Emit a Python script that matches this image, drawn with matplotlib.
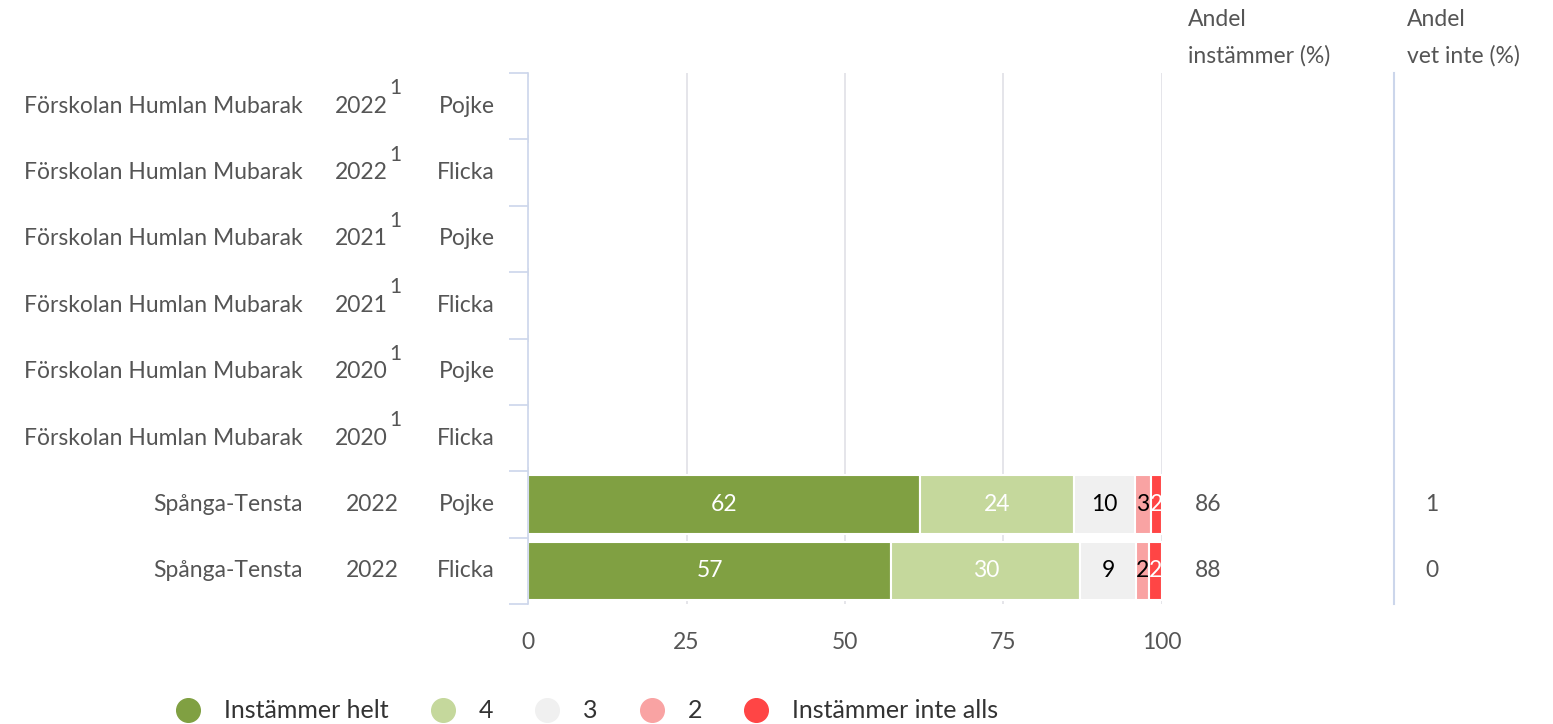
import matplotlib.pyplot as plt
import matplotlib.transforms as mtransforms
import numpy as np

plt.rcParams['font.family'] = ['Lato', 'DejaVu Sans']

schools = ["Förskolan Humlan Mubarak"] * 6 + ["Spånga-Tensta"] * 2
years = ["2022", "2022", "2021", "2021", "2020", "2020", "2022", "2022"]
footnote = [True, True, True, True, True, True, False, False]
genders = ["Pojke", "Flicka", "Pojke", "Flicka", "Pojke", "Flicka", "Pojke", "Flicka"]

categories = ["Instämmer helt", "4", "3", "2", "Instämmer inte alls"]
# shares per row (only the last two rows have data)
helt = [0, 0, 0, 0, 0, 0, 61.8, 57.3]
fyra = [0, 0, 0, 0, 0, 0, 24.3, 29.8]
tre = [0, 0, 0, 0, 0, 0, 9.6, 8.8]
tva = [0, 0, 0, 0, 0, 0, 2.6, 2.0]
inte = [0, 0, 0, 0, 0, 0, 1.7, 2.1]
andel_instammer = [None, None, None, None, None, None, 86, 88]
andel_vet_inte = [None, None, None, None, None, None, 1, 0]

colors = ["#80a042", "#c5d89c", "#f0f0f0", "#f9a3a3", "#ff4545"]
label_colors = ["white", "white", "black", "black", "white"]

fig = plt.figure(figsize=(15.53, 7.24), dpi=100)
ax = fig.add_axes([0.34, 0.1657, 0.4082, 0.7335])

FS = 16.5
y = np.arange(len(genders))
series = [helt, fyra, tre, tva, inte]
left = np.zeros(len(genders))
for vals, col, lc in zip(series, colors, label_colors):
    vals = np.array(vals, dtype=float)
    ax.barh(y, vals, left=left, height=0.88, color=col, edgecolor="white", linewidth=1.5)
    for yi, v, l in zip(y, vals, left):
        if v > 0:
            ax.text(l + v / 2, yi, f"{round(v)}", ha="center", va="center",
                    fontsize=FS, color=lc)
    left += vals

ax.set_xlim(0, 100)
ax.set_ylim(len(genders) - 0.5, -0.5)
ax.set_xticks([0, 25, 50, 75, 100])
ax.tick_params(axis="x", length=0, labelsize=FS, labelcolor="#555555", pad=20)
ax.set_yticks([])
ax.set_yticks(np.arange(len(genders) + 1) - 0.5, minor=True)
ax.tick_params(axis="y", which="minor", length=14, color="#ccd6eb", width=1.2)
ax.grid(axis="x", color="#e0e0e6", linewidth=1.2)
ax.set_axisbelow(True)
for s in ["top", "right", "bottom"]:
    ax.spines[s].set_visible(False)
ax.spines["left"].set_color("#ccd6eb")
ax.spines["left"].set_linewidth(1.2)

trans = mtransforms.blended_transform_factory(fig.transFigure, ax.transData)
txt = "#555555"
for i in range(len(genders)):
    ax.text(303 / 1553, i, schools[i], transform=trans, ha="right", va="center",
            fontsize=FS, color=txt)
    if footnote[i]:
        ax.text(388 / 1553, i, years[i], transform=trans, ha="right", va="center",
                fontsize=FS, color=txt)
        ax.text(389 / 1553, i - 0.27, "1", transform=trans, ha="left", va="center",
                fontsize=15, color=txt)
    else:
        ax.text(399 / 1553, i, years[i], transform=trans, ha="right", va="center",
                fontsize=FS, color=txt)
    ax.text(495 / 1553, i, genders[i], transform=trans, ha="right", va="center",
            fontsize=FS, color=txt)
    if andel_instammer[i] is not None:
        ax.text(1195 / 1553, i, str(andel_instammer[i]), transform=trans, ha="left",
                va="center", fontsize=FS, color=txt)
    if andel_vet_inte[i] is not None:
        ax.text(1432 / 1553, i, str(andel_vet_inte[i]), transform=trans, ha="center",
                va="center", fontsize=FS, color=txt)

# separator line for the "vet inte" column
fig.add_artist(plt.Line2D([1394 / 1553, 1394 / 1553], [1 - 73 / 724, 1 - 604 / 724],
                          color="#ccd6eb", linewidth=1.5))

fig.text(1188 / 1553, 1 - 20 / 724, "Andel", fontsize=FS, color=txt, va="center")
fig.text(1188 / 1553, 1 - 56 / 724, "instämmer (%)", fontsize=FS, color=txt, va="center")
fig.text(1407 / 1553, 1 - 20 / 724, "Andel", fontsize=FS, color=txt, va="center")
fig.text(1407 / 1553, 1 - 56 / 724, "vet inte (%)", fontsize=FS, color=txt, va="center")

# legend
handles = [plt.Line2D([], [], marker="o", linestyle="", markersize=17,
                      markerfacecolor=c, markeredgecolor=c) for c in colors]
fig.legend(handles, categories, loc="center", bbox_to_anchor=(0.374, 1 - 711 / 724),
           ncol=5, frameon=False, fontsize=18, labelcolor="#333333",
           handletextpad=0.45, columnspacing=1.15)

fig.savefig("out.png", dpi=100)
